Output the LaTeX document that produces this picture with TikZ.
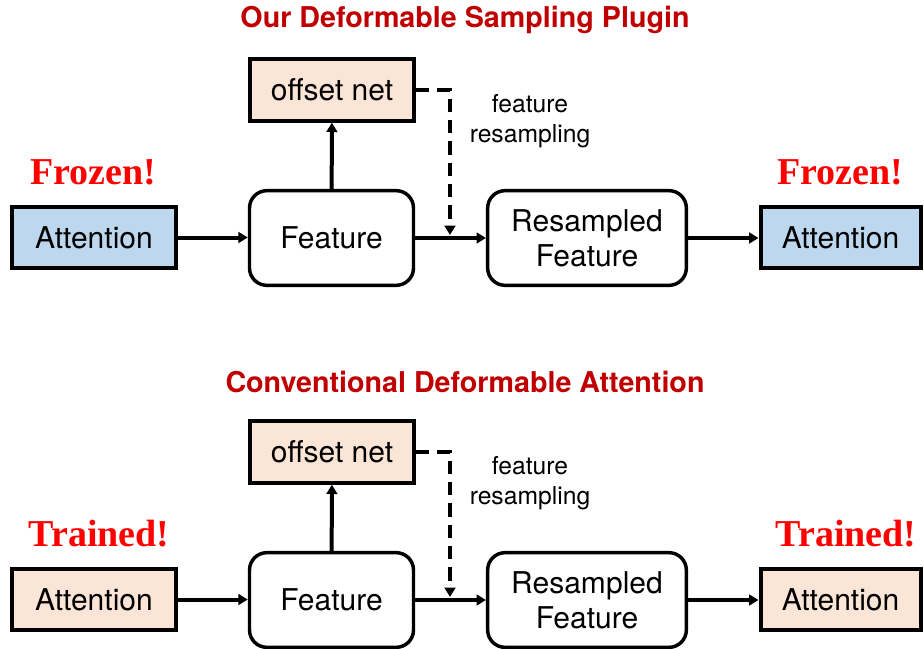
\documentclass[tikz,border=0pt]{standalone}
\usepackage{fontspec}
\usetikzlibrary{arrows.meta}
\newfontfamily\helv{TeX Gyre Heros}
\newfontfamily\tms{Liberation Serif}
\definecolor{titlered}{RGB}{192,0,0}
\definecolor{tagred}{RGB}{255,0,0}
\definecolor{frozenblue}{RGB}{189,215,238}
\definecolor{trainpeach}{RGB}{251,229,214}

\tikzset{every picture/.style={line width=0.75pt}}
\tikzset{
  sqbox/.style={draw, line width=3pt, inner sep=0pt, minimum width=123pt, minimum height=46pt, font=\helv\fontsize{22.5}{26}\selectfont},
  rdbox/.style={draw, line width=2.6pt, rounded corners=13pt, inner sep=0pt, minimum height=71pt, align=center, font=\helv\fontsize{22.5}{26}\selectfont},
  flow/.style={draw, line width=3pt, -{Triangle[width=8pt,length=7pt]}},
  dflow/.style={flow, dash pattern={on 10pt off 6pt}},
  titletext/.style={font=\helv\bfseries\fontsize{21.5}{25}\selectfont, text=titlered},
  tagtext/.style={font=\tms\bfseries\fontsize{28.5}{32}\selectfont, text=tagred},
  note/.style={font=\helv\fontsize{18.5}{22}\selectfont, align=center}
}

\begin{document}
\begin{tikzpicture}[x=0.75pt,y=0.75pt,yscale=-1,xscale=1]
\path[use as bounding box] (0,0) rectangle (924,649);

% Top panel
% Text Node
\node[titletext] (titleA) at (465,20) {Our Deformable Sampling Plugin};
% Boxes
\node[sqbox, fill=trainpeach] (offA) at (332,90) {offset net};
\node[sqbox, fill=frozenblue] (attLA) at (94,237.5) {Attention};
\node[rdbox, minimum width=123pt] (featA) at (331.5,238) {Feature};
\node[rdbox, minimum width=149pt] (resA) at (587,238) {Resampled\\Feature};
\node[sqbox, fill=frozenblue, minimum width=120pt] (attRA) at (840.5,237.5) {Attention};
% Text Node
\node[tagtext] (tagLA) at (93,172) {Frozen!};
\node[tagtext] (tagRA) at (840,172) {Frozen!};
\node[note] (noteA) at (530,121) {feature\\resampling};
\coordinate (dropA) at (450,235);
% Straight Lines
\path[flow] (attLA.east) -- (featA.west |- attLA.east);
\path[flow] (featA) -- (resA);
\path[flow] (resA) -- (attRA.west |- resA);
\path[flow] (featA) -- (offA);
\path[dflow] (offA.east) -| (dropA);

% Bottom panel
% Text Node
\node[titletext] (titleB) at (465,382) {Conventional Deformable Attention};
% Boxes
\node[sqbox, fill=trainpeach] (offB) at (332,452) {offset net};
\node[sqbox, fill=trainpeach] (attLB) at (94,599.5) {Attention};
\node[rdbox, minimum width=123pt] (featB) at (331.5,600) {Feature};
\node[rdbox, minimum width=149pt] (resB) at (587,600) {Resampled\\Feature};
\node[sqbox, fill=trainpeach, minimum width=120pt] (attRB) at (840.5,599.5) {Attention};
% Text Node
\node[tagtext] (tagLB) at (99,534) {Trained!};
\node[tagtext] (tagRB) at (846,534) {Trained!};
\node[note] (noteB) at (530,483) {feature\\resampling};
\coordinate (dropB) at (450,597);
% Straight Lines
\path[flow] (attLB.east) -- (featB.west |- attLB.east);
\path[flow] (featB) -- (resB);
\path[flow] (resB) -- (attRB.west |- resB);
\path[flow] (featB) -- (offB);
\path[dflow] (offB.east) -| (dropB);

\end{tikzpicture}
\end{document}
